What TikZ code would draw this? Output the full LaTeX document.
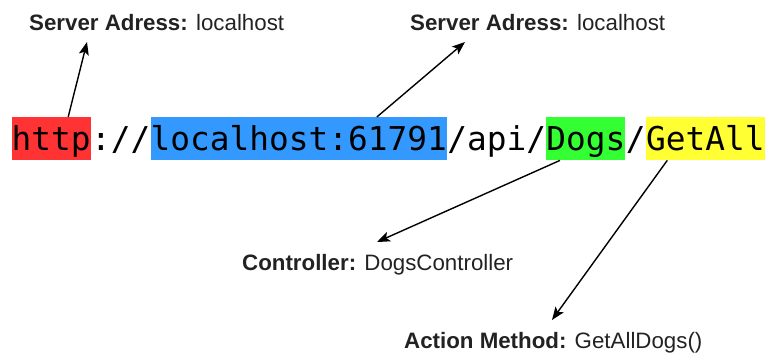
\documentclass[tikz,border=0pt]{standalone}
\usepackage{fontspec}
\setmainfont{Liberation Sans}
\newfontfamily\urlfont{DejaVu Sans Mono}
\usetikzlibrary{arrows.meta,positioning}

\definecolor{partred}{HTML}{FF3333}
\definecolor{partblue}{HTML}{3399FF}
\definecolor{partgreen}{HTML}{33FF33}
\definecolor{partyellow}{HTML}{FFFF33}
\definecolor{labelgray}{HTML}{222222}

\begin{document}
\begin{tikzpicture}[
    x=1pt, y=-1pt,
    url_part_style/.style={inner sep=0pt, text height=33pt, text depth=10pt,
        font=\urlfont\fontsize{32.8}{40}\selectfont},
    label_style/.style={inner sep=0pt, anchor=base west, text=labelgray,
        font=\fontsize{22.3}{26}\selectfont},
    arrow_style/.style={draw=black, line width=1.4pt,
        -{Stealth[length=13pt,width=10pt,inset=3pt]}}
]
\useasboundingbox (0,0) rectangle (765,358);

% URL split into parts
\node[url_part_style, fill=partred, anchor=north west] (http) at (11.5,117) {http};
\node[url_part_style, right=0pt of http] (sep1) {://};
\node[url_part_style, fill=partblue, right=0pt of sep1] (host) {localhost:61791};
\node[url_part_style, right=0pt of host] (api) {/api/};
\node[url_part_style, fill=partgreen, right=0pt of api] (dogs) {Dogs};
\node[url_part_style, right=0pt of dogs] (sep2) {/};
\node[url_part_style, fill=partyellow, right=0pt of sep2] (getall) {GetAll};

% labels
\node[label_style] (srv1) at (29,31) {\textbf{Server Adress:} localhost};
\node[label_style] (srv2) at (410,31) {\textbf{Server Adress:} localhost};
\node[label_style] (ctrl) at (242,270) {\textbf{Controller:} DogsController};
\node[label_style] (act) at (404,348) {\textbf{Action Method:} GetAllDogs()};

% arrows
\draw[arrow_style] ([xshift=17pt]http.north) -- ([xshift=58pt,yshift=-11pt]srv1.base west);
\draw[arrow_style] ([xshift=78pt]host.north) -- ([xshift=55pt,yshift=-11pt]srv2.base west);
\draw[arrow_style] ([xshift=-26pt]dogs.south) -- ([xshift=135pt,yshift=28pt]ctrl.base west);
\draw[arrow_style] ([xshift=-38pt]getall.south) -- ([xshift=148pt,yshift=28pt]act.base west);

\end{tikzpicture}
\end{document}
